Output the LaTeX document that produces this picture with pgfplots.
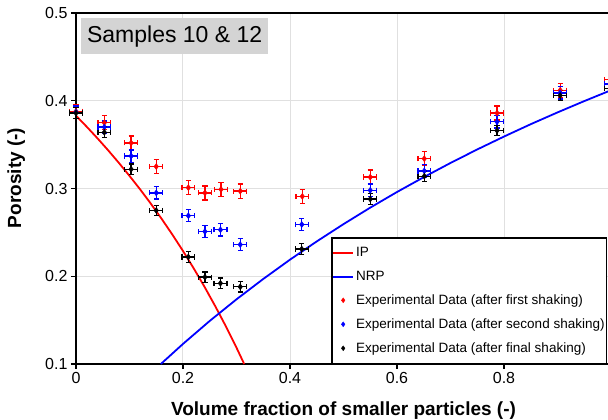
\documentclass[border=0pt]{standalone}
\usepackage{pgfplots}
\pgfplotsset{compat=1.18}
\usepackage{fontspec}
\setmainfont{Liberation Sans}

\begin{document}
\begin{tikzpicture}
\begin{axis}[
  scale only axis, width=535pt, height=351pt,
  xmin=0, xmax=1, ymin=0.1, ymax=0.5,
  clip=false,
  axis x line=box, axis y line=left,
  axis line style={-, line width=1.5pt, black},
  xtick={0,0.2,0.4,0.6,0.8}, ytick={0.1,0.2,0.3,0.4,0.5},
  xtick pos=left, ytick pos=left,
  tick align=outside, major tick length=5pt,
  tick style={black, line width=1.2pt},
  grid=major, major grid style={black!12, line width=1pt},
  /pgf/number format/assume math mode=true,
  /pgf/number format/fixed, /pgf/number format/precision=1,
  ticklabel style={font=\fontsize{16}{19}\selectfont},
  xlabel={Volume fraction of smaller particles (-)},
  ylabel={Porosity (-)},
  every axis x label/.style={at={(axis description cs:0.5,-0.148)}, anchor=base, font=\fontsize{19}{22}\selectfont\bfseries},
  every axis y label/.style={at={(axis description cs:-0.1028,0.53)}, rotate=90, anchor=base, font=\fontsize{19}{22}\selectfont\bfseries},
  legend style={name=leg, at={(axis description cs:0.4785,0.359)}, anchor=north west, draw=none, fill=white,
    font=\fontsize{13.5}{16}\selectfont, row sep=6.7pt, inner xsep=0pt, inner ysep=6.5pt,
    nodes={inner xsep=2pt, inner ysep=3pt}},
  legend cell align=left,
]
% IP
\addplot[red, line width=1.8pt,
  legend image code/.code={\draw[red, line width=2pt] (0pt,0pt) -- (20pt,0pt);}] coordinates {
(0,0.383) (0.02,0.3704) (0.04,0.3573) (0.06,0.3436) (0.08,0.3293) (0.10,0.3144)
(0.12,0.2989) (0.14,0.2826) (0.16,0.2655) (0.18,0.2476) (0.20,0.2288) (0.22,0.2090)
(0.24,0.1882) (0.26,0.1662) (0.28,0.1431) (0.30,0.1186) (0.3144,0.1)};
\addlegendentry{IP}
% NRP
\addplot[blue, line width=1.8pt,
  legend image code/.code={\draw[blue, line width=2pt] (0pt,0pt) -- (20pt,0pt);}] coordinates {
(0.1586,0.1) (0.20,0.1229) (0.25,0.1491) (0.30,0.1737) (0.35,0.1969)
(0.40,0.2189) (0.45,0.2397) (0.50,0.2594) (0.55,0.2782) (0.60,0.2960) (0.65,0.3129)
(0.70,0.3291) (0.75,0.3445) (0.80,0.3592) (0.85,0.3733) (0.90,0.3867) (0.95,0.3996) (1.00,0.412)};
\addlegendentry{NRP}
% first shaking
\addplot[red, only marks, mark=diamond*, mark size=3pt, mark options={line width=0.4pt},
  legend image code/.code={\fill[red] (10pt,2.4pt) -- (11.8pt,0pt) -- (10pt,-2.4pt) -- (8.2pt,0pt) -- cycle;},
  error bars/.cd, x dir=both, x fixed=0.012, y dir=both, y fixed=0.008,
  error bar style={line width=1.3pt}, error mark options={rotate=90, mark size=2.6pt, line width=1.3pt}]
coordinates {
(0,0.388) (0.053,0.375) (0.103,0.352) (0.150,0.325) (0.210,0.301) (0.241,0.295)
(0.271,0.299) (0.307,0.297) (0.423,0.291) (0.550,0.313) (0.651,0.334) (0.787,0.386)
(0.905,0.412) (1.0,0.424)};
\addlegendentry{Experimental Data (after first shaking)}
% second shaking
\addplot[blue, only marks, mark=diamond*, mark size=3pt, mark options={line width=0.4pt},
  legend image code/.code={\fill[blue] (10pt,2.4pt) -- (11.8pt,0pt) -- (10pt,-2.4pt) -- (8.2pt,0pt) -- cycle;},
  error bars/.cd, x dir=both, x fixed=0.012, y dir=both, y fixed=0.007,
  error bar style={line width=1.3pt}, error mark options={rotate=90, mark size=2.6pt, line width=1.3pt}]
coordinates {
(0,0.387) (0.053,0.370) (0.103,0.337) (0.150,0.295) (0.210,0.269) (0.241,0.251)
(0.270,0.253) (0.307,0.236) (0.422,0.259) (0.550,0.298) (0.651,0.320) (0.787,0.376)
(0.905,0.409) (1.0,0.419)};
\addlegendentry{Experimental Data (after second shaking)}
% final shaking
\addplot[black, only marks, mark=diamond*, mark size=3pt, mark options={line width=0.4pt},
  legend image code/.code={\fill[black] (10pt,2.4pt) -- (11.8pt,0pt) -- (10pt,-2.4pt) -- (8.2pt,0pt) -- cycle;},
  error bars/.cd, x dir=both, x fixed=0.012, y dir=both, y fixed=0.006,
  error bar style={line width=1.3pt}, error mark options={rotate=90, mark size=2.6pt, line width=1.3pt}]
coordinates {
(0,0.386) (0.053,0.364) (0.103,0.322) (0.150,0.275) (0.210,0.222) (0.241,0.199)
(0.270,0.192) (0.307,0.188) (0.422,0.231) (0.550,0.288) (0.651,0.314) (0.787,0.366)
(0.905,0.406) (1.0,0.414)};
\addlegendentry{Experimental Data (after final shaking)}

\node[anchor=north west, fill=black!17, minimum width=187pt, minimum height=36pt, inner sep=0pt,
  font=\fontsize{23}{27}\selectfont] at (axis description cs:0.0093,0.9858) {Samples 10 \& 12};
\coordinate (O) at (axis description cs:0,0);
\coordinate (T) at (axis description cs:0,1);
\end{axis}
\draw[black, line width=1.3pt] (leg.south west) rectangle (leg.north east);
\pgfresetboundingbox
\path[use as bounding box] ([xshift=-76pt,yshift=-56pt]O) rectangle ([xshift=532pt,yshift=13pt]T);
\end{tikzpicture}
\end{document}
